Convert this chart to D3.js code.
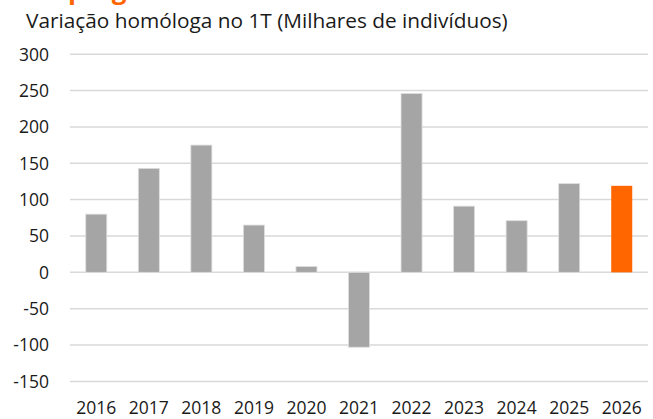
<!DOCTYPE html>
<html>
<head>
<meta charset="utf-8">
<script src="https://cdn.jsdelivr.net/npm/d3@7"></script>
<style>
  body { margin: 0; background: #fff; }
  svg { display: block; font-family: "Open Sans", sans-serif; }
</style>
</head>
<body>
<svg id="chart" width="653" height="419"></svg>
<script>
// annual change in Q1, thousands of people

const years = ["2016", "2017", "2018", "2019", "2020", "2021", "2022", "2023", "2024", "2025", "2026"];
const values = [80, 143, 175, 65, 8, -103, 246, 91, 71, 122, 119];
const yTicks = [300, 250, 200, 150, 100, 50, 0, -50, -100, -150];
const titleText = "Variação homóloga no 1T (Milhares de indivíduos)";
const headText = "Emprego";

const svg = d3.select("#chart");
const width = 653;
const height = 419;

// plot area
const plotLeft = 70, plotRight = 648, plotTop = 54.2, plotBottom = 381.4;

const x = d3.scaleBand()
  .domain(years)
  .range([plotLeft, plotRight])
  .paddingInner(0.6)
  .paddingOuter(0.3);

const y = d3.scaleLinear()
  .domain([-150, 300])
  .range([plotBottom, plotTop]);

// orange heading, mostly above the top edge (only descenders show)
svg.append("text")
  .attr("x", 28)
  .attr("y", -1)
  .attr("fill", "#ff6600")
  .attr("font-weight", "bold")
  .attr("font-size", 26)
  .text(headText);

// subtitle
svg.append("text")
  .attr("x", 26)
  .attr("y", 28)
  .attr("fill", "#1a1a1a")
  .attr("font-size", 20.8)
  .text(titleText);

// gridlines
svg.append("g")
  .selectAll("line")
  .data(yTicks)
  .join("line")
  .attr("x1", plotLeft)
  .attr("x2", plotRight)
  .attr("y1", d => y(d))
  .attr("y2", d => y(d))
  .attr("stroke", "#d9d9d9")
  .attr("stroke-width", 1.5);

// y labels
svg.append("g")
  .selectAll("text")
  .data(yTicks)
  .join("text")
  .attr("x", 49)
  .attr("y", d => y(d))
  .attr("dy", "0.36em")
  .attr("text-anchor", "end")
  .attr("fill", "#1a1a1a")
  .attr("font-size", 17.5)
  .text(d => d);

// bars
svg.append("g")
  .selectAll("rect")
  .data(values)
  .join("rect")
  .attr("x", (d, i) => x(years[i]))
  .attr("width", x.bandwidth())
  .attr("y", d => y(Math.max(0, d)))
  .attr("height", d => Math.abs(y(d) - y(0)))
  .attr("fill", (d, i) => i === values.length - 1 ? "#ff6600" : "#a5a5a5")
  .attr("stroke", (d, i) => i === values.length - 1 ? "none" : "#dedede")
  .attr("stroke-width", 0.8);

// x labels
svg.append("g")
  .selectAll("text")
  .data(years)
  .join("text")
  .attr("x", d => x(d) + x.bandwidth() / 2)
  .attr("y", 414)
  .attr("text-anchor", "middle")
  .attr("fill", "#1a1a1a")
  .attr("font-size", 17.5)
  .text(d => d);
</script>
</body>
</html>
